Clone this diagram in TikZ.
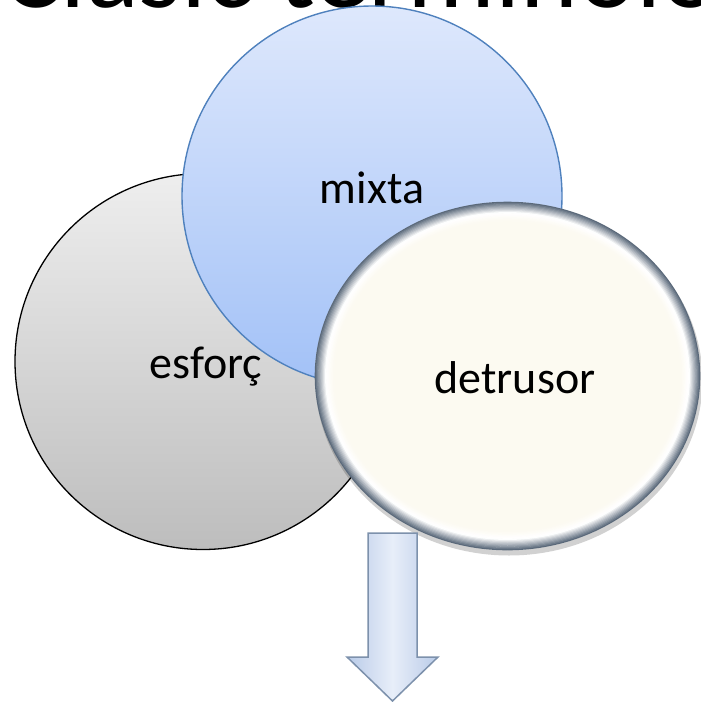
\documentclass[tikz,border=0pt]{standalone}
\usepackage{fontspec}
\setmainfont{Carlito}
\usetikzlibrary{shapes.geometric}
\definecolor{grayTop}{HTML}{EEEEEE}
\definecolor{grayBot}{HTML}{BDBDBD}
\definecolor{blueTop}{HTML}{DEE8FC}
\definecolor{blueBot}{HTML}{A2C1F7}
\definecolor{blueEdge}{HTML}{4F81BD}
\definecolor{cream}{HTML}{FCFAF1}
\definecolor{rimDark}{HTML}{5A697A}
\definecolor{arrEdge}{HTML}{7D91AC}
\definecolor{arrSide}{HTML}{B9CBE8}
\definecolor{arrMid}{HTML}{E8EEF9}
\tikzset{
  lbl/.style={font=\fontsize{46}{46}\selectfont, anchor=base, inner sep=0pt},
  graydisc/.style={circle, draw=black, line width=1.3pt, top color=grayTop, bottom color=grayBot, inner sep=0pt},
  bluedisc/.style={circle, draw=blueEdge, line width=1.4pt, top color=blueTop, bottom color=blueBot, inner sep=0pt},
}
\begin{document}
\begin{tikzpicture}[x=1pt, y=-1pt]
\useasboundingbox (0,0) rectangle (701,702);
\fill[white] (0,0) rectangle (701,702);
\clip (0,0) rectangle (701,702);
% title (cut off at the top)
\node[anchor=base west, inner sep=0pt, font=\fontsize{110}{110}\selectfont] (title) at (2,7) {Clàsic terminologia};
% grey circle
\node[graydisc, minimum size=376pt] (esf) at (203,361.5) {};
% blue circle
\node[bluedisc, minimum size=380pt] (mix) at (372,196) {};
% cream ellipse with bevel
\node[ellipse, minimum width=385pt, minimum height=348pt, inner sep=0pt] (det) at (507.5,376) {};
\fill[black, opacity=0.18] ([xshift=1.5pt, yshift=-4pt]det.center) ellipse [x radius=193.5pt, y radius=175.5pt];
\fill[cream] (det.center) ellipse [x radius=192.5pt, y radius=174pt];
\foreach \i in {0,...,10} {
  \pgfmathsetmacro{\mixv}{max(0,100-\i*11)}
  \draw[color=rimDark!\mixv!white, line width=1.6pt]
    (det.center) ellipse [x radius=192-\i*1.15, y radius=173.5-\i*1.15];
}
\foreach \i in {11,...,16} {
  \pgfmathsetmacro{\mixv}{(\i-10)*16}
  \draw[color=cream!\mixv!white, line width=1.6pt]
    (det.center) ellipse [x radius=192-\i*1.15, y radius=173.5-\i*1.15];
}
% labels
\node[lbl] (tEsf) at (206,378) {esforç};
\node[lbl] (tMix) at (372,203) {mixta};
\node[lbl] (tDet) at (515,393) {detrusor};
% block arrow
\coordinate (a1) at (368,533);
\coordinate (a2) at (417,533);
\coordinate (a3) at (417,657);
\coordinate (a4) at (438,657);
\coordinate (tip) at (392.5,701);
\coordinate (a6) at (347,657);
\coordinate (a7) at (368,657);
\path[left color=arrSide, right color=arrSide, middle color=arrMid] (a1) -- (a2) -- (a3) -- (a4) -- (tip) -- (a6) -- (a7) -- cycle;
\draw[arrEdge, line width=1.5pt, line join=miter] (a1) -- (a2) -- (a3) -- (a4) -- (tip) -- (a6) -- (a7) -- cycle;
\end{tikzpicture}
\end{document}
